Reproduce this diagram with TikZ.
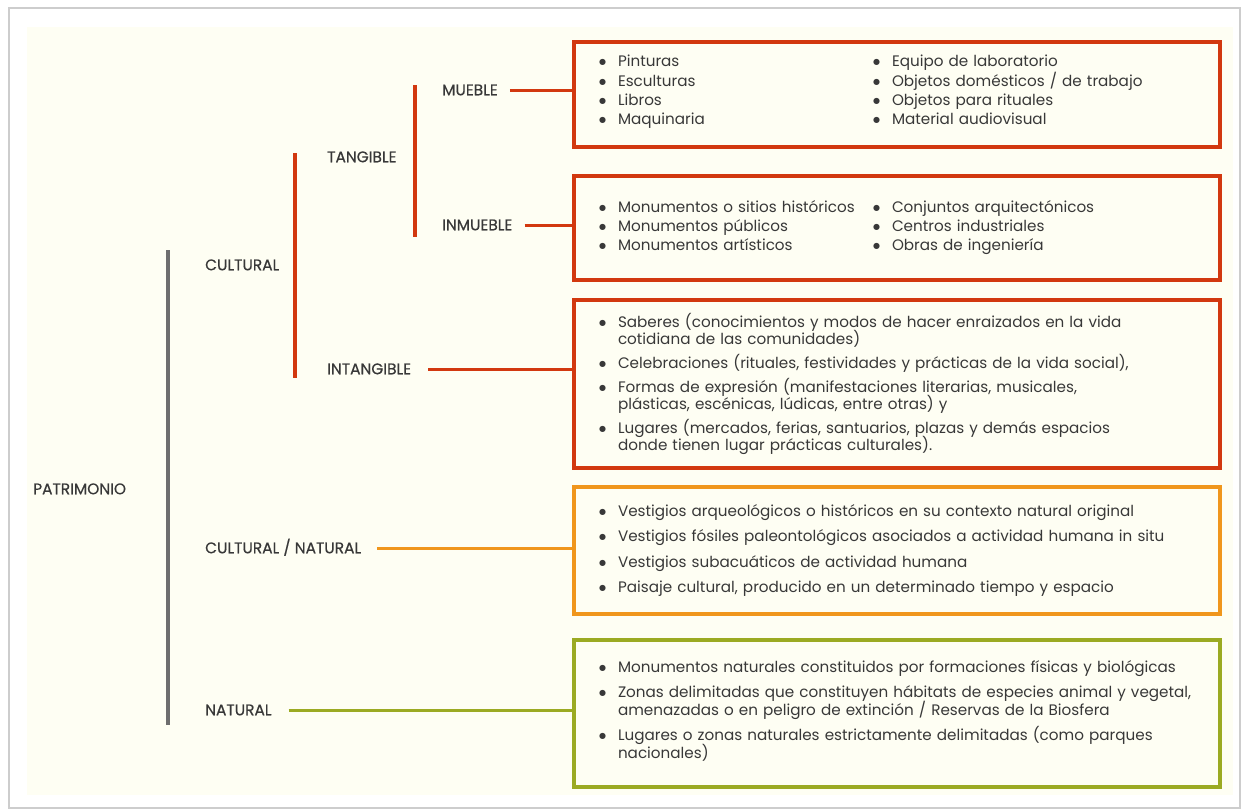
\documentclass[tikz,border=0pt]{standalone}
\usepackage{fontspec}
\setmainfont{Poppins}
\newfontfamily\lblfam[FakeBold=0.5]{Poppins}
\newfontfamily\bulfam{DejaVu Sans}
\usetikzlibrary{positioning}
\definecolor{cream}{HTML}{FEFEF3}
\definecolor{framec}{HTML}{CDCDCD}
\definecolor{redc}{HTML}{D2380F}
\definecolor{orangec}{HTML}{F0961C}
\definecolor{greenc}{HTML}{9BAA22}
\definecolor{barc}{HTML}{6E6E6E}
\definecolor{txtc}{HTML}{383838}
\newcommand{\lblfont}{\lblfam\fontsize{15.4}{17}\selectfont}
\newcommand{\itmfont}{\fontsize{15.2}{19}\selectfont}
\newcommand{\bul}{\makebox[21pt][l]{\hspace{2pt}\raisebox{2pt}{\bulfam\fontsize{8}{9}\selectfont ●}}}
\newcommand{\itm}[1]{\hangindent=21pt\hangafter=1\noindent\bul #1\par}
\tikzstyle{lbl} = [inner sep=0pt, anchor=west, text height=10.5pt, text depth=0pt, font=\lblfont, text=txtc]
\tikzstyle{vec} = [rectangle, draw, line width=4pt, minimum width=646pt, text width=600pt, inner xsep=23pt, inner ysep=0pt, anchor=north west, font=\itmfont, text=txtc]
\tikzstyle{link} = [line width=3pt, shorten <=12pt]
\tikzstyle{bar} = [line width=4pt]
\begin{document}
\begin{tikzpicture}[x=1pt, y=-1pt, auto, node distance=0pt]

% fondo
\fill[white] (0,0) rectangle (1250,811);
\draw[line width=2pt, framec] (9,8) rectangle (1240,808);
\fill[cream] (27,27) rectangle (1233,795);

% categorias
\node(patr)[lbl] at (33,489) {PATRIMONIO};
\node(cult)[lbl] at (205,265) {CULTURAL};
\node(tang)[lbl] at (327,157) {TANGIBLE};
\node(intang)[lbl] at (327,369) {INTANGIBLE};
\node(mueb)[lbl] at (442,90) {MUEBLE};
\node(inmueb)[lbl] at (442,225) {INMUEBLE};
\node(cunat)[lbl] at (205,548) {CULTURAL / NATURAL};
\node(natu)[lbl] at (205,710) {NATURAL};

% cajas
\node(B1)[vec, draw=redc, minimum height=105pt] at (572,40) {%
\begin{tabular}{@{}p{274pt}@{}l@{}}
\bul Pinturas & \bul Equipo de laboratorio\\
\bul Esculturas & \bul Objetos domésticos / de trabajo\\
\bul Libros & \bul Objetos para rituales\\
\bul Maquinaria & \bul Material audiovisual
\end{tabular}\par\vspace{6pt}};
\node(B2)[vec, draw=redc, minimum height=104pt, below = 25pt of B1] {%
\begin{tabular}{@{}p{274pt}@{}l@{}}
\bul Monumentos o sitios históricos & \bul Conjuntos arquitectónicos\\
\bul Monumentos públicos & \bul Centros industriales\\
\bul Monumentos artísticos & \bul Obras de ingeniería
\end{tabular}};
\node(B3)[vec, draw=redc, minimum height=168pt, below = 16pt of B2] {%
\fontsize{15.2}{16.7}\selectfont\lineskiplimit=-20pt\setlength{\parskip}{7.5pt}%
\itm{Saberes (conocimientos y modos de hacer enraizados en la vida\newline cotidiana de las comunidades)}
\itm{Celebraciones (rituales, festividades y prácticas de la vida social),}
\itm{Formas de expresión (manifestaciones literarias, musicales,\newline plásticas, escénicas, lúdicas, entre otras) y}
\itm{Lugares (mercados, ferias, santuarios, plazas y demás espacios\newline donde tienen lugar prácticas culturales).}};
\node(B4)[vec, draw=orangec, minimum height=127pt, below = 15pt of B3] {%
\fontsize{15.2}{17}\selectfont\lineskiplimit=-20pt\setlength{\parskip}{8.5pt}%
\itm{Vestigios arqueológicos o históricos en su contexto natural original}
\itm{Vestigios fósiles paleontológicos asociados a actividad humana in situ}
\itm{Vestigios subacuáticos de actividad humana}
\itm{Paisaje cultural, producido en un determinado tiempo y espacio}};
\node(B5)[vec, draw=greenc, minimum height=147pt, below = 22pt of B4] {%
\fontsize{15.2}{17.5}\selectfont\lineskiplimit=-20pt\setlength{\parskip}{8pt}%
\itm{Monumentos naturales constituidos por formaciones físicas y biológicas}
\itm{Zonas delimitadas que constituyen hábitats de especies animal y vegetal,\newline amenazadas o en peligro de extinción / Reservas de la Biosfera}
\itm{Lugares o zonas naturales estrictamente delimitadas (como parques\newline nacionales)}\vspace{6pt}};

% llaves
\draw[bar, barc] ([xshift=-37pt,yshift=15pt]cult.west) -- ([xshift=-37pt,yshift=-15pt]natu.west);
\draw[bar, redc] ([xshift=-32pt,yshift=4pt]tang.west) -- ([xshift=-32pt,yshift=-9pt]intang.west);
\draw[bar, redc] ([xshift=-27pt,yshift=5pt]mueb.west) -- ([xshift=-27pt,yshift=-12pt]inmueb.west);

% enlaces
\draw[link, redc] (mueb.east) -- (mueb -| B1.west);
\draw[link, redc] (inmueb.east) -- (inmueb -| B2.west);
\draw[link, redc, shorten <=17pt] (intang.east) -- (intang -| B3.west);
\draw[link, orangec, shorten <=16pt] (cunat.east) -- (cunat -| B4.west);
\draw[link, greenc, shorten <=17pt] (natu.east) -- (natu -| B5.west);

\end{tikzpicture}
\end{document}
